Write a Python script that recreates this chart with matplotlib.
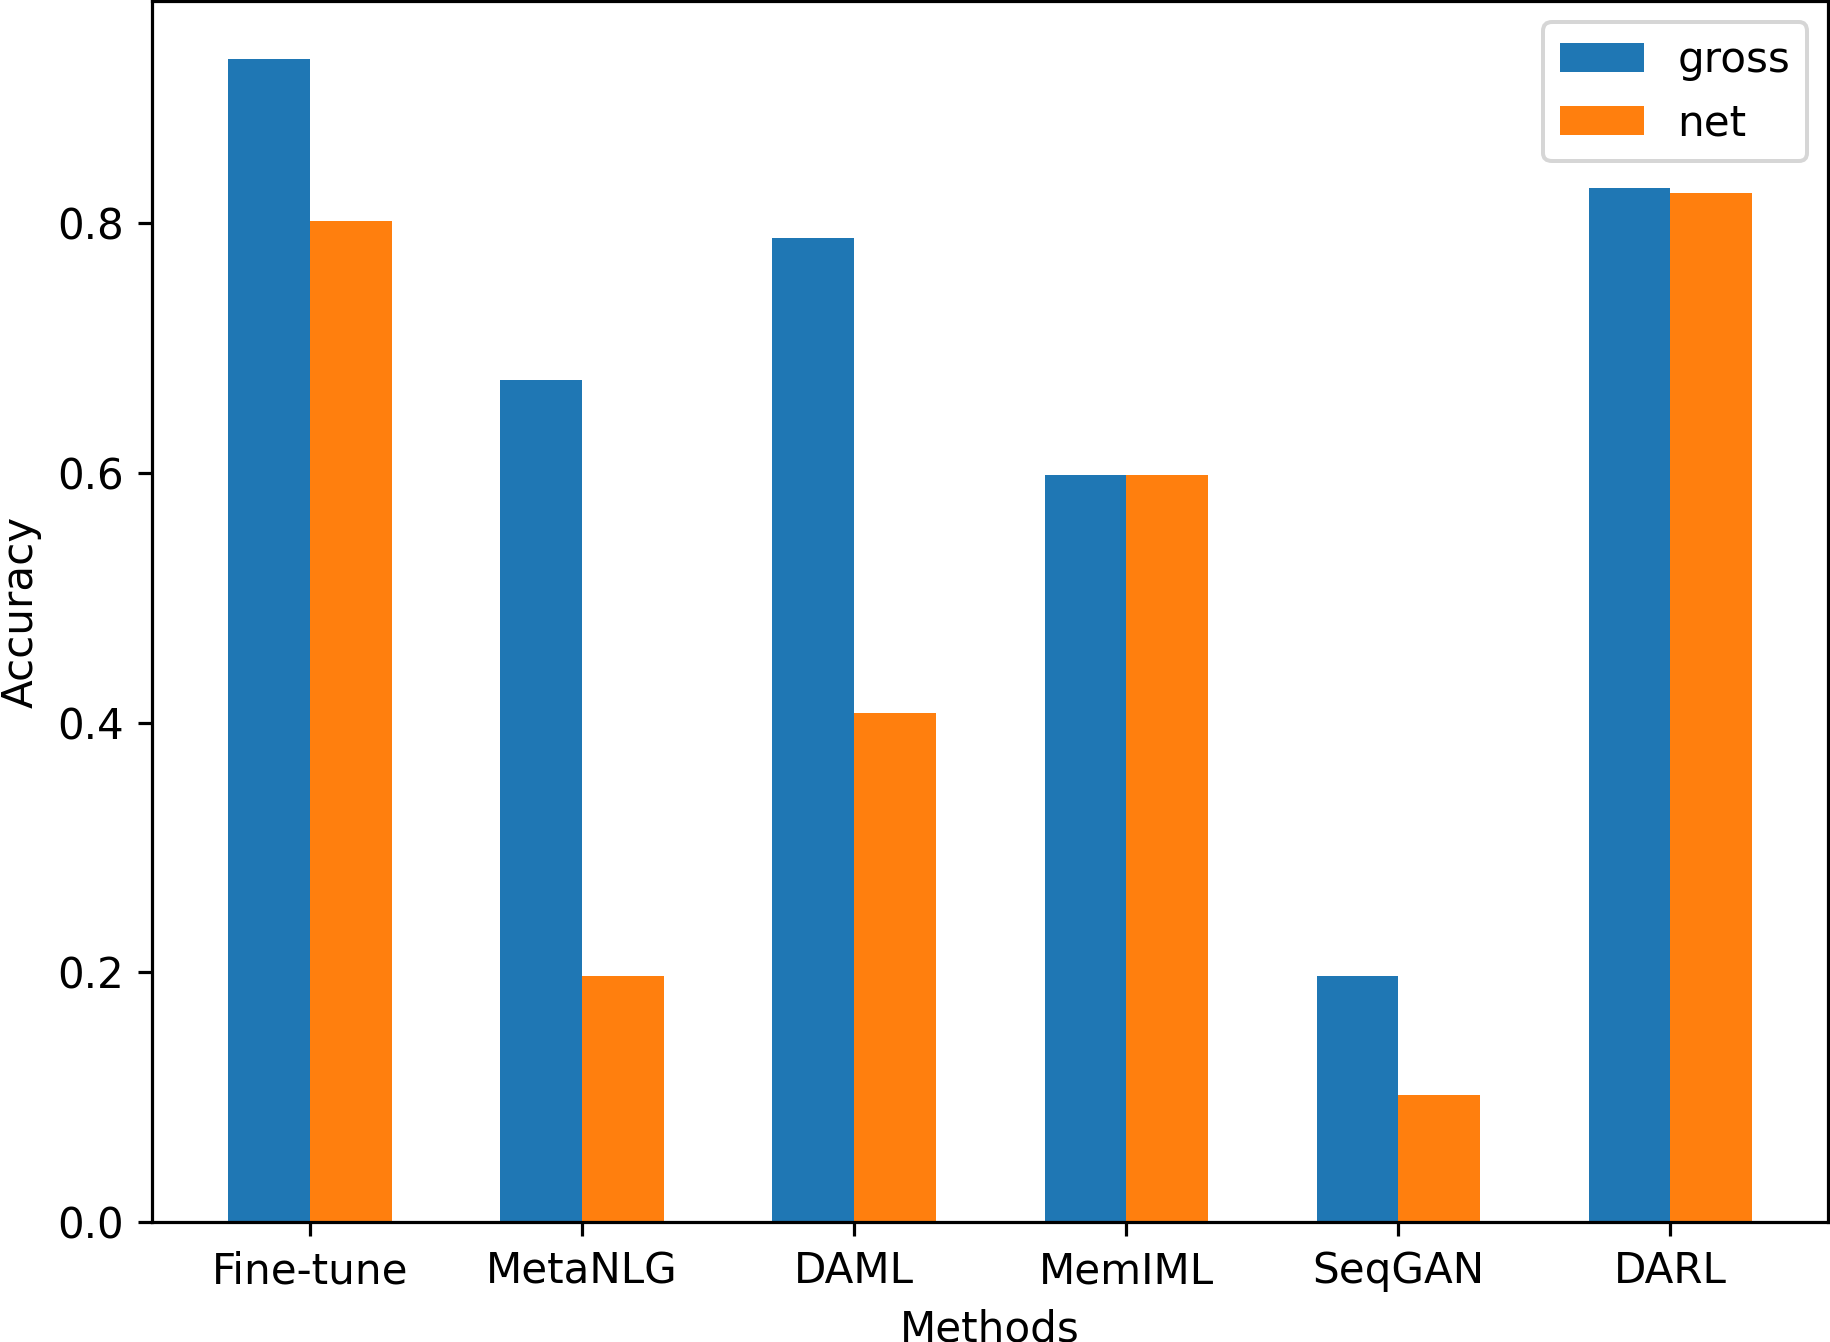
import numpy as np
import matplotlib
matplotlib.use("Agg")
import matplotlib.pyplot as plt

methods = ["Fine-tune", "MetaNLG", "DAML", "MemIML", "SeqGAN", "DARL"]
gross = [0.931, 0.674, 0.788, 0.598, 0.197, 0.828]
net = [0.802, 0.197, 0.408, 0.598, 0.102, 0.824]

plt.rcParams["font.size"] = 10.5

dpi = 288
fig = plt.figure(figsize=(1830 / dpi, 1342 / dpi), dpi=dpi)
ax = fig.add_axes([0.0831, 0.0894, 0.9159, 0.9096])

x = np.arange(len(methods))
width = 0.3
ax.bar(x - width / 2, gross, width, label="gross")
ax.bar(x + width / 2, net, width, label="net")

ax.set_xticks(x)
ax.set_xticklabels(methods)
ax.set_xlabel("Methods")
ax.set_ylabel("Accuracy")
ax.legend(loc="upper right")

fig.savefig("out.png", dpi=dpi)
